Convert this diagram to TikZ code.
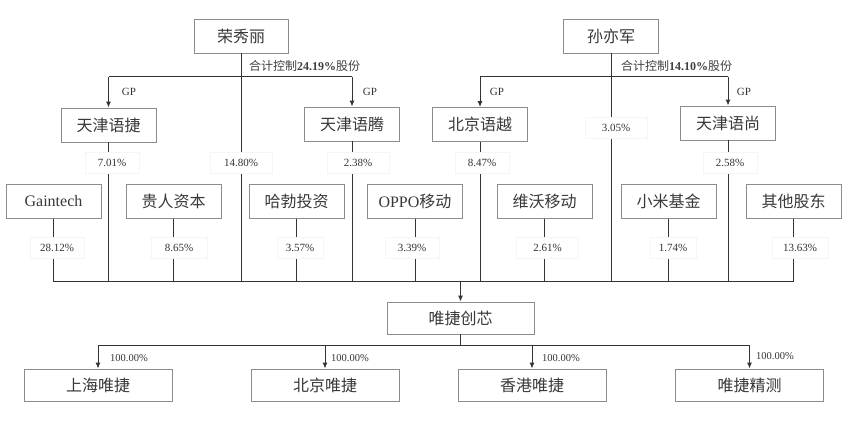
\documentclass[tikz,border=0pt]{standalone}
\usepackage{fontspec}
\setmainfont{Liberation Serif}
\newfontfamily\cjk{Noto Sans CJK SC}
\usetikzlibrary{arrows.meta}
\begin{document}
\begin{tikzpicture}[x=1pt,y=-1pt,
  box/.style={draw=black!45, line width=0.9pt, minimum width=95pt, minimum height=34pt, inner sep=0pt,
    font=\cjk\fontsize{16}{16}\selectfont, text=black!78},
  lowbox/.style={box, minimum width=148pt, minimum height=32pt},
  pct/.style={fill=white, draw=black!4, minimum width=54pt, minimum height=21pt, inner sep=2pt, font=\fontsize{11}{11}\selectfont, text=black!80},
  ln/.style={draw=black!80, line width=1pt},
  arr/.style={ln, -{Latex[length=6pt,width=5pt]}},
  gp/.style={font=\fontsize{11}{11}\selectfont, text=black!80},
  sublbl/.style={anchor=west, inner sep=0pt, font=\fontsize{10.5}{10.5}\selectfont, text=black!80},
  ctl/.style={anchor=west, inner sep=0pt, font=\cjk\fontsize{12}{12}\selectfont, text=black!75}]
\useasboundingbox (0,0) rectangle (859,430);
\fill[white] (0,0) rectangle (859,430);

% coordinates of the buses
\coordinate (bar) at (0,77);
\coordinate (bus) at (0,282);
\coordinate (bus2) at (0,345);

% top owners
\node[box, minimum width=94pt] (rxl) at (241,36) {荣秀丽};
\node[box] (syj) at (611,36) {孙亦军};

% partnerships
\node[box] (tjyj) at (108.5,125) {天津语捷};
\node[box] (tjyt) at (352,124) {天津语腾};
\node[box] (bjyy) at (480,124.5) {北京语越};
\node[box] (tjys) at (728,123) {天津语尚};

% second row
\node[box] (gain) at (53.5,201.5) {\rmfamily Gaintech};
\node[box] (grzb) at (173.5,201.5) {贵人资本};
\node[box] (hbtz) at (296.5,201.5) {哈勃投资};
\node[box] (oppo) at (415,201.5) {{\rmfamily OPPO}移动};
\node[box] (wwyd) at (544.5,201.5) {维沃移动};
\node[box] (xmjj) at (668.5,201.5) {小米基金};
\node[box] (qtgd) at (793.5,201.5) {其他股东};

% company
\node[box, minimum width=147pt, minimum height=32pt] (wjcx) at (460.5,318) {唯捷创芯};

% subsidiaries
\node[lowbox] (shwj) at (98,385) {上海唯捷};
\node[lowbox] (bjwj) at (325,385) {北京唯捷};
\node[lowbox] (xgwj) at (532,385) {香港唯捷};
\node[lowbox] (wjjc) at (749.5,385) {唯捷精测};

% control bars
\draw[ln] (tjyj.north |- bar) -- (tjyt.north |- bar);
\draw[arr] (tjyj.north |- bar) -- (tjyj.north);
\draw[arr] (tjyt.north |- bar) -- (tjyt.north);
\draw[ln] (bjyy.north |- bar) -- (tjys.north |- bar);
\draw[arr] (bjyy.north |- bar) -- (bjyy.north);
\draw[arr] (tjys.north |- bar) -- (tjys.north);

% verticals into bus
\foreach \n in {rxl,syj,tjyj,tjyt,bjyy,tjys,gain,grzb,hbtz,oppo,wwyd,xmjj,qtgd}
  \draw[ln] (\n.south) -- (\n.south |- bus);
\draw[ln] (gain.south |- bus) -- (qtgd.south |- bus);
\draw[arr] (wjcx.north |- bus) -- (wjcx.north);

% lower bus
\draw[ln] (wjcx.south) -- (wjcx.south |- bus2);
\draw[ln] (shwj.north |- bus2) -- (wjjc.north |- bus2);
\foreach \n in {shwj,bjwj,xgwj,wjjc}
  \draw[arr] (\n.north |- bus2) -- (\n.north);

% control texts
\node[ctl] (c1) at (249,66) {合计控制{\rmfamily\bfseries 24.19\%}股份};
\node[ctl] (c2) at (621,66) {合计控制{\rmfamily\bfseries 14.10\%}股份};

% GP labels
\node[gp] (gp1) at (129,92) {GP};
\node[gp] (gp2) at (370,92) {GP};
\node[gp] (gp3) at (497,92) {GP};
\node[gp] (gp4) at (744,92) {GP};

% percentage labels
\node[pct] (p1) at (112,163) {7.01\%};
\node[pct, minimum width=62pt] (p2) at (241,163) {14.80\%};
\node[pct, minimum width=62pt] (p3) at (358,163) {2.38\%};
\node[pct] (p4) at (482,163) {8.47\%};
\node[pct, minimum width=62pt] (p5) at (616,128) {3.05\%};
\node[pct] (p6) at (730,163) {2.58\%};
\node[pct] (q1) at (57,248) {28.12\%};
\node[pct, minimum width=56pt] (q2) at (179,248) {8.65\%};
\node[pct, minimum width=46pt] (q3) at (300,248) {3.57\%};
\node[pct] (q4) at (412,248) {3.39\%};
\node[pct, minimum width=62pt] (q5) at (547.5,248) {2.61\%};
\node[pct, minimum width=46pt] (q6) at (673,248) {1.74\%};
\node[pct, minimum width=56pt] (q7) at (800,248) {13.63\%};

% subsidiary labels
\node[sublbl] (s1) at (110,358) {100.00\%};
\node[sublbl] (s2) at (331,358) {100.00\%};
\node[sublbl] (s3) at (542,358) {100.00\%};
\node[sublbl] (s4) at (756,356) {100.00\%};
\end{tikzpicture}
\end{document}
